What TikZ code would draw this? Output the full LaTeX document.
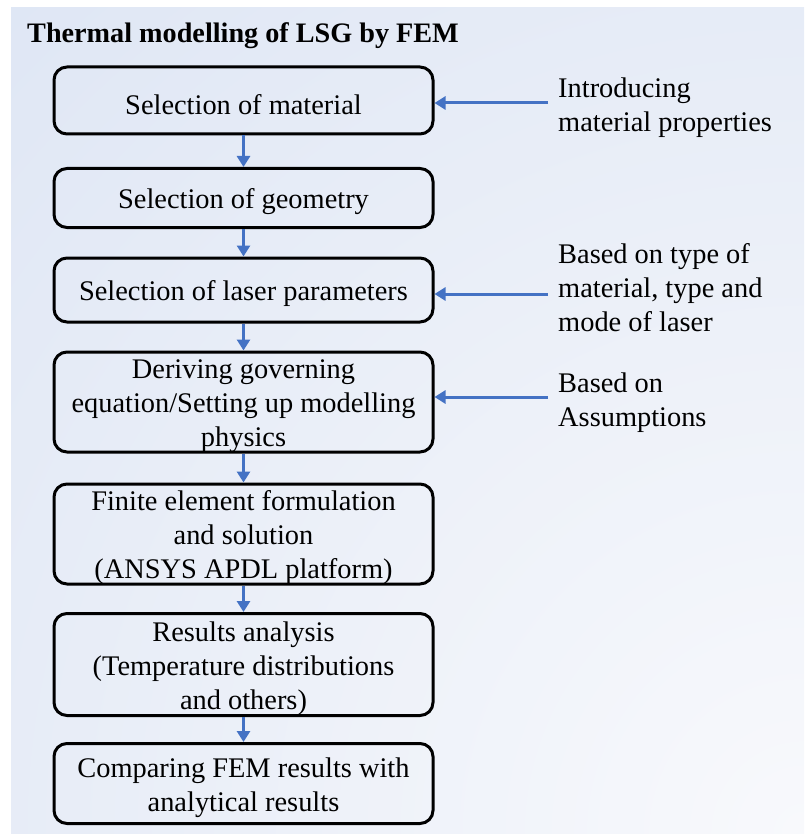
\documentclass[tikz,border=0pt]{standalone}
\usepackage{fontspec}
\setmainfont{Liberation Serif}
\usetikzlibrary{arrows.meta}

\definecolor{bgouter}{HTML}{C6D4ED}
\definecolor{bginner}{HTML}{F8F9FC}
\definecolor{flowblue}{HTML}{4472C4}

\tikzset{
  stepbox/.style={draw=black, line width=3pt, rounded corners=13pt,
    minimum width=379pt, inner sep=0pt},
  steptext/.style={align=center, inner sep=0pt,
    font=\fontsize{28.4}{34}\selectfont},
  sidenote/.style={anchor=west, align=left, inner sep=0pt,
    font=\fontsize{28.4}{34}\selectfont},
  flow/.style={draw=flowblue, line width=3pt,
    -{Triangle[width=13pt,length=11pt]}}
}

\begin{document}
\begin{tikzpicture}[x=1pt, y=-1pt]
  \useasboundingbox (0,0) rectangle (804,834);

  % soft blue backdrop, lightening towards the lower right corner
  \begin{scope}
    \clip (11,8) rectangle (804,834);
    \shade[inner color=bginner, outer color=bgouter] (804,834) circle (2300);
  \end{scope}

  % heading
  \node[anchor=base west, inner sep=0pt,
        font=\fontsize{28.2}{34}\selectfont\bfseries] (title) at (27,43)
        {Thermal modelling of LSG by FEM};

  % process step frames
  \node[stepbox, minimum height=67pt]  (b1) at (243.5,100.5) {};
  \node[stepbox, minimum height=59pt]  (b2) at (243.5,198) {};
  \node[stepbox, minimum height=64pt]  (b3) at (243.5,290) {};
  \node[stepbox, minimum height=100pt] (b4) at (243.5,402) {};
  \node[stepbox, minimum height=100pt] (b5) at (243.5,534) {};
  \node[stepbox, minimum height=102pt] (b6) at (243.5,664.5) {};
  \node[stepbox, minimum height=80pt]  (b7) at (243.5,783.5) {};

  % process step texts
  \node[steptext] (b1t) at ([yshift=-4pt]b1.center) {Selection of material};
  \node[steptext] (b2t) at ([yshift=-4pt]b2.center) {Selection of geometry};
  \node[steptext] (b3t) at ([yshift=-4pt]b3.center) {Selection of laser parameters};
  \node[steptext] (b4t) at ([yshift=-4pt]b4.center)
        {Deriving governing\\equation/Setting up modelling\\physics};
  \node[steptext] (b5t) at ([yshift=-4pt]b5.center)
        {Finite element formulation\\and solution\\(ANSYS APDL platform)};
  \node[steptext] (b6t) at ([yshift=-4pt]b6.center)
        {Results analysis\\(Temperature distributions\\and others)};
  \node[steptext] (b7t) at ([yshift=-4pt]b7.center)
        {Comparing FEM results with\\analytical results};

  % downward links
  \draw[flow] (b1) -- (b2);
  \draw[flow] (b2) -- (b3);
  \draw[flow] (b3) -- (b4);
  \draw[flow] (b4) -- (b5);
  \draw[flow] (b5) -- (b6);
  \draw[flow] (b6) -- (b7);

  % side inputs
  \node[sidenote] (n1) at (558,108) {Introducing\\material properties};
  \node[sidenote] (n3) at (558,288) {Based on type of\\material, type and\\mode of laser};
  \node[sidenote] (n4) at (558,403) {Based on\\Assumptions};

  \coordinate (s1) at (548,103);
  \coordinate (s3) at (548,294);
  \coordinate (s4) at (548,397);
  \draw[flow] (s1) -- (s1 -| b1.east);
  \draw[flow] (s3) -- (s3 -| b3.east);
  \draw[flow] (s4) -- (s4 -| b4.east);
\end{tikzpicture}
\end{document}
